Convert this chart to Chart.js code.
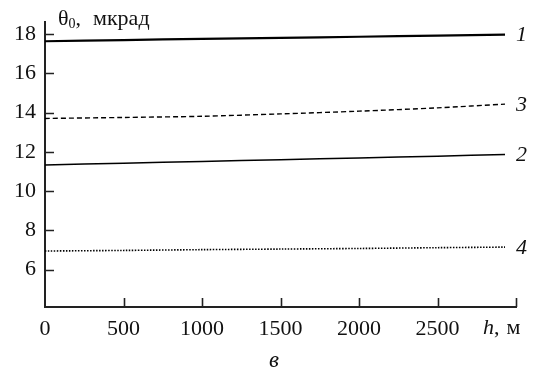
<!DOCTYPE html>
<html>
<head>
<meta charset="utf-8">
<script src="https://cdn.jsdelivr.net/npm/chart.js@4"></script>
<style>
  html, body { margin: 0; padding: 0; background: #fff; }
  #wrap { width: 534px; height: 372px; }
</style>
</head>
<body>
<div id="wrap"><canvas id="chart" width="534" height="372"></canvas></div>
<script>
// ===== data =====
const hValues = [0, 500, 1000, 1500, 2000, 2500, 2930];
const curve1 = [17.63, 17.69, 17.75, 17.80, 17.86, 17.92, 17.97];
const curve2 = [11.33, 11.42, 11.51, 11.60, 11.69, 11.78, 11.86];
const curve3 = [13.70, 13.75, 13.81, 13.93, 14.07, 14.24, 14.43];
const curve4 = [6.95, 6.98, 7.02, 7.05, 7.08, 7.12, 7.15];
const curveNames = ['1', '2', '3', '4'];
const xTicks = [0, 500, 1000, 1500, 2000, 2500, 3000];
const yTicks = [6, 8, 10, 12, 14, 16, 18];

const SERIF = "'Liberation Serif', 'DejaVu Serif', serif";
const INK = '#222';

function points(ys) {
    return hValues.map((h, i) => ({ x: h, y: ys[i] }));
}

// ===== plugins =====
const inwardTicks = {
    id: 'inwardTicks',
    afterDraw(chart) {
        const ctx = chart.ctx;
        const { x, y } = chart.scales;
        const area = chart.chartArea;
        ctx.save();
        ctx.strokeStyle = INK;
        ctx.lineWidth = 1.6;
        ctx.beginPath();
        xTicks.forEach(v => {
            if (v === 0) return;
            const px = Math.round(x.getPixelForValue(v)) + 0.5;
            ctx.moveTo(px, area.bottom);
            ctx.lineTo(px, area.bottom - 9);
        });
        yTicks.forEach(v => {
            const py = Math.round(y.getPixelForValue(v)) + 0.5;
            ctx.moveTo(area.left, py);
            ctx.lineTo(area.left + 9, py);
        });
        ctx.stroke();
        ctx.restore();
    }
};

const annotations = {
    id: 'annotations',
    afterDraw(chart) {
        const ctx = chart.ctx;
        const { x, y } = chart.scales;
        ctx.save();
        ctx.fillStyle = '#111';
        ctx.textBaseline = 'alphabetic';

        // axis title
        ctx.font = `22px ${SERIF}`;
        ctx.fillText('θ', 58, 25);
        let tx = 58 + ctx.measureText('θ').width;
        ctx.font = `14px ${SERIF}`;
        ctx.fillText('0', tx, 28);
        tx += ctx.measureText('0').width;
        ctx.font = `22px ${SERIF}`;
        ctx.fillText(',', tx, 25);
        ctx.fillText('мкрад', 93, 25);

        // x axis unit
        const base = 334;
        ctx.font = `italic 22px ${SERIF}`;
        ctx.fillText('h', 483, base);
        let ux = 483 + ctx.measureText('h').width;
        ctx.font = `22px ${SERIF}`;
        ctx.fillText(',', ux, base);
        ux += ctx.measureText(',').width + 7;
        ctx.fillText('м', ux, base);

        // panel letter
        ctx.font = `italic 23px ${SERIF}`;
        ctx.textAlign = 'center';
        ctx.fillText('в', 274, 367);

        // curve numbers
        ctx.font = `italic 22px ${SERIF}`;
        ctx.textAlign = 'left';
        ctx.textBaseline = 'middle';
        chart.data.datasets.forEach((ds, i) => {
            const last = ds.data[ds.data.length - 1];
            const px = x.getPixelForValue(last.x);
            const py = y.getPixelForValue(last.y);
            ctx.fillText(curveNames[i], px + 11, py + 1);
        });
        ctx.restore();
    }
};

// ===== chart =====
new Chart(document.getElementById('chart'), {
    type: 'line',
    data: {
        datasets: [
            { data: points(curve1), borderColor: '#000', borderWidth: 2.2 },
            { data: points(curve2), borderColor: '#000', borderWidth: 1.5 },
            { data: points(curve3), borderColor: '#000', borderWidth: 1.4, borderDash: [5, 3] },
            { data: points(curve4), borderColor: '#000', borderWidth: 1.6, borderDash: [1.5, 1.5] }
        ]
    },
    options: {
        responsive: false,
        animation: false,
        events: [],
        elements: {
            point: { radius: 0 },
            line: { tension: 0.3, fill: false }
        },
        layout: { padding: { top: 20, right: 18, left: 0, bottom: 0 } },
        plugins: {
            legend: { display: false },
            tooltip: { enabled: false }
        },
        scales: {
            x: {
                type: 'linear',
                min: 0,
                max: 3000,
                afterBuildTicks: s => { s.ticks = xTicks.map(v => ({ value: v })); },
                afterFit: s => { s.height = 65; },
                grid: { display: false, drawTicks: false },
                border: { display: true, color: INK, width: 2 },
                ticks: {
                    color: '#111',
                    padding: 9,
                    maxRotation: 0,
                    autoSkip: false,
                    font: { family: SERIF, size: 22 },
                    callback: v => (v === 3000 ? '' : String(v))
                }
            },
            y: {
                min: 4.1,
                max: 18.6,
                afterBuildTicks: s => { s.ticks = yTicks.map(v => ({ value: v })); },
                afterFit: s => { s.width = 45; },
                grid: { display: false, drawTicks: false },
                border: { display: true, color: INK, width: 2 },
                ticks: {
                    color: '#111',
                    padding: 9,
                    autoSkip: false,
                    font: { family: SERIF, size: 22 }
                }
            }
        }
    },
    plugins: [inwardTicks, annotations]
});
</script>
</body>
</html>
